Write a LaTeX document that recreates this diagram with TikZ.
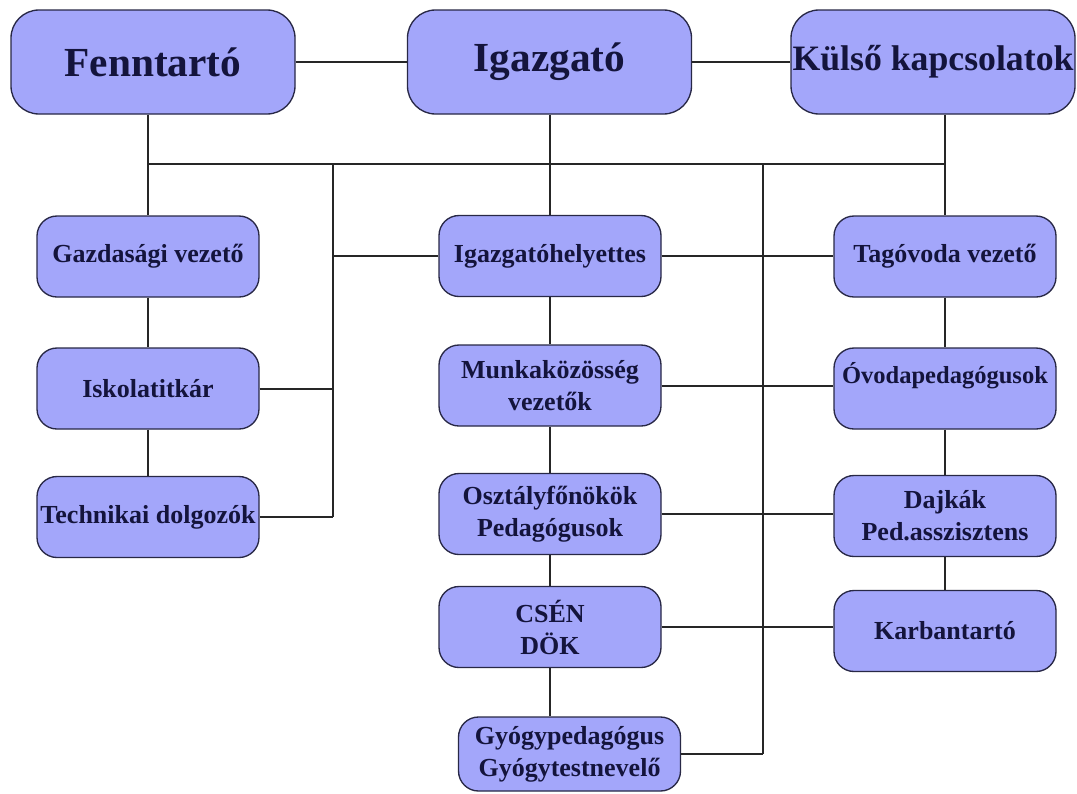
\documentclass[tikz,border=0pt]{standalone}
\usepackage{fontspec}
\setmainfont{Liberation Serif}
\definecolor{boxfill}{RGB}{163,166,250}
\definecolor{boxline}{RGB}{40,40,70}
\definecolor{txt}{RGB}{20,20,60}
\tikzset{
  topbox/.style={draw=boxline, line width=1pt, fill=boxfill, rounded corners=21pt,
    minimum width=213pt, minimum height=78pt, inner xsep=0pt, inner ysep=0pt,
    text=txt, font=\fontsize{31}{35}\selectfont\bfseries, align=center},
  smallbox/.style={draw=boxline, line width=1pt, fill=boxfill, rounded corners=15pt,
    minimum width=166.5pt, minimum height=60.75pt, inner xsep=0pt, inner ysep=0pt,
    text=txt, font=\fontsize{19.5}{24}\selectfont\bfseries, align=center},
  link/.style={draw=black!85, line width=1.5pt}
}
\begin{document}
\begin{tikzpicture}[x=0.75pt,y=-0.75pt]
\useasboundingbox[fill=white] (0,0) rectangle (1077,793);
% top row
\node[topbox] (fenn) at (153,62) {Fenntartó};
\node[topbox] (igaz) at (549.5,62) {Igazgató};
\node[topbox, font=\fontsize{26.8}{30}\selectfont\bfseries] (kulso) at (933,62) {Külső kapcsolatok};
% left column
\node[smallbox] (gaz) at (148,256.5) {Gazdasági vezető};
\node[smallbox] (isk) at (148,388.5) {Iskolatitkár};
\node[smallbox] (tech) at (148,517) {Technikai dolgozók};
% middle column
\node[smallbox] (ih) at (550,256) {Igazgatóhelyettes};
\node[smallbox] (mk) at (550,385.5) {Munkaközösség\\vezetők};
\node[smallbox] (osz) at (550,514) {Osztályfőnökök\\Pedagógusok};
\node[smallbox] (csen) at (550,627) {CSÉN\\DÖK};
\node[smallbox, minimum height=55.5pt] (gyogy) at (569.5,754) {Gyógypedagógus\\Gyógytestnevelő};
% right column
\node[smallbox] (tag) at (945,256.5) {Tagóvoda vezető};
\node[smallbox, font=\fontsize{18.4}{24}\selectfont\bfseries] (ovoda) at (945,388.5) {Óvodapedagógusok\\[0pt]~};
\node[smallbox] (dajka) at (945,516) {Dajkák\\Ped.asszisztens};
\node[smallbox] (karb) at (945,631) {Karbantartó};
% bus coordinates
\coordinate (busL) at (148,164);
\coordinate (busR) at (945,164);
\coordinate (lbTop) at (333,164);
\coordinate (rbTop) at (763,164);
% connectors
\draw[link] (fenn.east) -- (igaz.west);
\draw[link] (igaz.east) -- (kulso.west);
\draw[link] (gaz.north |- fenn.south) -- (gaz.north);
\draw[link] (busL) -- (busR);
\draw[link] (kulso.south -| tag.north) -- (tag.north);
\draw[link] (igaz.south -| ih.north) -- (ih.north);
\draw[link] (gaz.south) -- (isk.north);
\draw[link] (isk.south) -- (tech.north);
\draw[link] (lbTop) -- (lbTop |- tech.east);
\draw[link] (ih.west) -- (lbTop |- ih.west);
\draw[link] (isk.east) -- (lbTop |- isk.east);
\draw[link] (tech.east) -- (lbTop |- tech.east);
\draw[link] (ih.south) -- (mk.north);
\draw[link] (mk.south) -- (osz.north);
\draw[link] (osz.south) -- (csen.north);
\draw[link] (csen.south) -- (csen.south |- gyogy.north);
\draw[link] (rbTop) -- (rbTop |- gyogy.east);
\draw[link] (gyogy.east) -- (rbTop |- gyogy.east);
\draw[link] (ih.east) -- (ih.east -| tag.west);
\draw[link] (mk.east) -- (mk.east -| ovoda.west);
\draw[link] (osz.east) -- (osz.east -| dajka.west);
\draw[link] (csen.east) -- (csen.east -| karb.west);
\draw[link] (tag.south) -- (ovoda.north);
\draw[link] (ovoda.south) -- (dajka.north);
\draw[link] (dajka.south) -- (karb.north);
\end{tikzpicture}
\end{document}
